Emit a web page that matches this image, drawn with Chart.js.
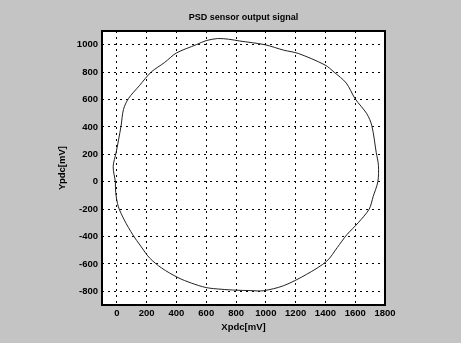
<!DOCTYPE html>
<html>
<head>
<meta charset="utf-8">
<script src="https://cdn.jsdelivr.net/npm/chart.js@4.4.1/dist/chart.umd.min.js"></script>
<style>
  html, body { margin: 0; padding: 0; background: #c4c4c4; }
  #wrap { width: 461px; height: 343px; position: relative; }
</style>
</head>
<body>
<div id="wrap"><canvas id="psdChart"></canvas></div>
<script>
// PSD output trace (mV), going clockwise from the left side
const xpdc = [-10, -25, -5, 28, 44, 77, 150, 230, 320, 399, 533, 600, 677, 750, 825, 993, 1120, 1218, 1397, 1458, 1540, 1599, 1678, 1712, 1741, 1756, 1752, 1720, 1694, 1620, 1543, 1480, 1409, 1274, 1117, 982, 900, 803, 700, 600, 500, 410, 300, 219, 160, 107, 50, 10, -8, -10];
const ypdc = [0, 110, 214, 407, 527, 606, 700, 800, 870, 939, 1000, 1030, 1045, 1040, 1027, 1000, 960, 936, 852, 800, 720, 606, 496, 407, 214, 118, 0, -110, -200, -300, -388, -480, -580, -676, -760, -796, -795, -792, -785, -773, -740, -700, -630, -556, -470, -388, -280, -183, -80, 0];

const xTicks = [0, 200, 400, 600, 800, 1000, 1200, 1400, 1600, 1800];
const yTicks = [-800, -600, -400, -200, 0, 200, 400, 600, 800, 1000];

const chartTitle = 'PSD sensor output signal';

const points = xpdc.map((x, i) => ({ x: x, y: ypdc[i] }));

// grey page, white plot box with a black frame, title centred over the box
const frame = {
    id: 'frame',
    beforeDraw(chart) {
        const ctx = chart.ctx;
        const a = chart.chartArea;
        ctx.save();
        ctx.fillStyle = '#c4c4c4';
        ctx.fillRect(0, 0, chart.width, chart.height);
        ctx.fillStyle = '#ffffff';
        ctx.fillRect(a.left, a.top, a.right - a.left, a.bottom - a.top);
        ctx.restore();
    },
    afterDraw(chart) {
        const ctx = chart.ctx;
        const a = chart.chartArea;
        ctx.save();
        ctx.strokeStyle = '#000';
        ctx.lineWidth = 2;
        ctx.strokeRect(a.left, a.top, a.right - a.left, a.bottom - a.top);
        ctx.fillStyle = '#000';
        ctx.font = 'bold 9px "Liberation Sans"';
        ctx.textAlign = 'center';
        ctx.textBaseline = 'middle';
        ctx.fillText(chartTitle, (a.left + a.right) / 2, 18);
        ctx.restore();
    }
};

const tickFont = { family: 'Liberation Sans', size: 9.5, weight: 'bold' };
const plain = v => String(v);

new Chart(document.getElementById('psdChart'), {
    type: 'scatter',
    data: {
        datasets: [{
            data: points,
            showLine: true,
            borderColor: '#222',
            borderWidth: 1,
            pointRadius: 0,
            tension: 0.3,
            fill: false
        }]
    },
    options: {
        responsive: true,
        maintainAspectRatio: false,
        animation: false,
        layout: { padding: { left: 53, right: 76, top: 31, bottom: 0 } },
        plugins: {
            legend: { display: false },
            tooltip: { enabled: false },
            title: { display: false }
        },
        scales: {
            x: {
                type: 'linear',
                min: -100,
                max: 1800,
                afterBuildTicks: function(scale) {
                    scale.ticks = xTicks.map(v => ({ value: v }));
                },
                afterFit: function(scale) { scale.height = 38; },
                grid: { color: '#000', lineWidth: 1, drawTicks: false },
                border: { display: false, dash: [2, 4] },
                ticks: { color: '#000', font: tickFont, padding: 3, maxRotation: 0, autoSkip: false, callback: plain },
                title: {
                    display: true,
                    text: 'Xpdc[mV]',
                    color: '#000',
                    font: { family: 'Liberation Sans', size: 9.5, weight: 'bold' },
                    padding: { top: 0, bottom: 10 }
                }
            },
            y: {
                type: 'linear',
                min: -900,
                max: 1100,
                afterBuildTicks: function(scale) {
                    scale.ticks = yTicks.map(v => ({ value: v }));
                },
                afterFit: function(scale) { scale.width = 49; },
                grid: { color: '#000', lineWidth: 1, drawTicks: false },
                border: { display: false, dash: [2, 4] },
                ticks: { color: '#000', font: tickFont, padding: 4, autoSkip: false, callback: plain },
                title: {
                    display: true,
                    text: 'Ypdc[mV]',
                    color: '#000',
                    font: { family: 'Liberation Sans', size: 9.5, weight: 'bold' },
                    padding: { top: 4, bottom: 4 }
                }
            }
        }
    },
    plugins: [frame]
});
</script>
</body>
</html>
